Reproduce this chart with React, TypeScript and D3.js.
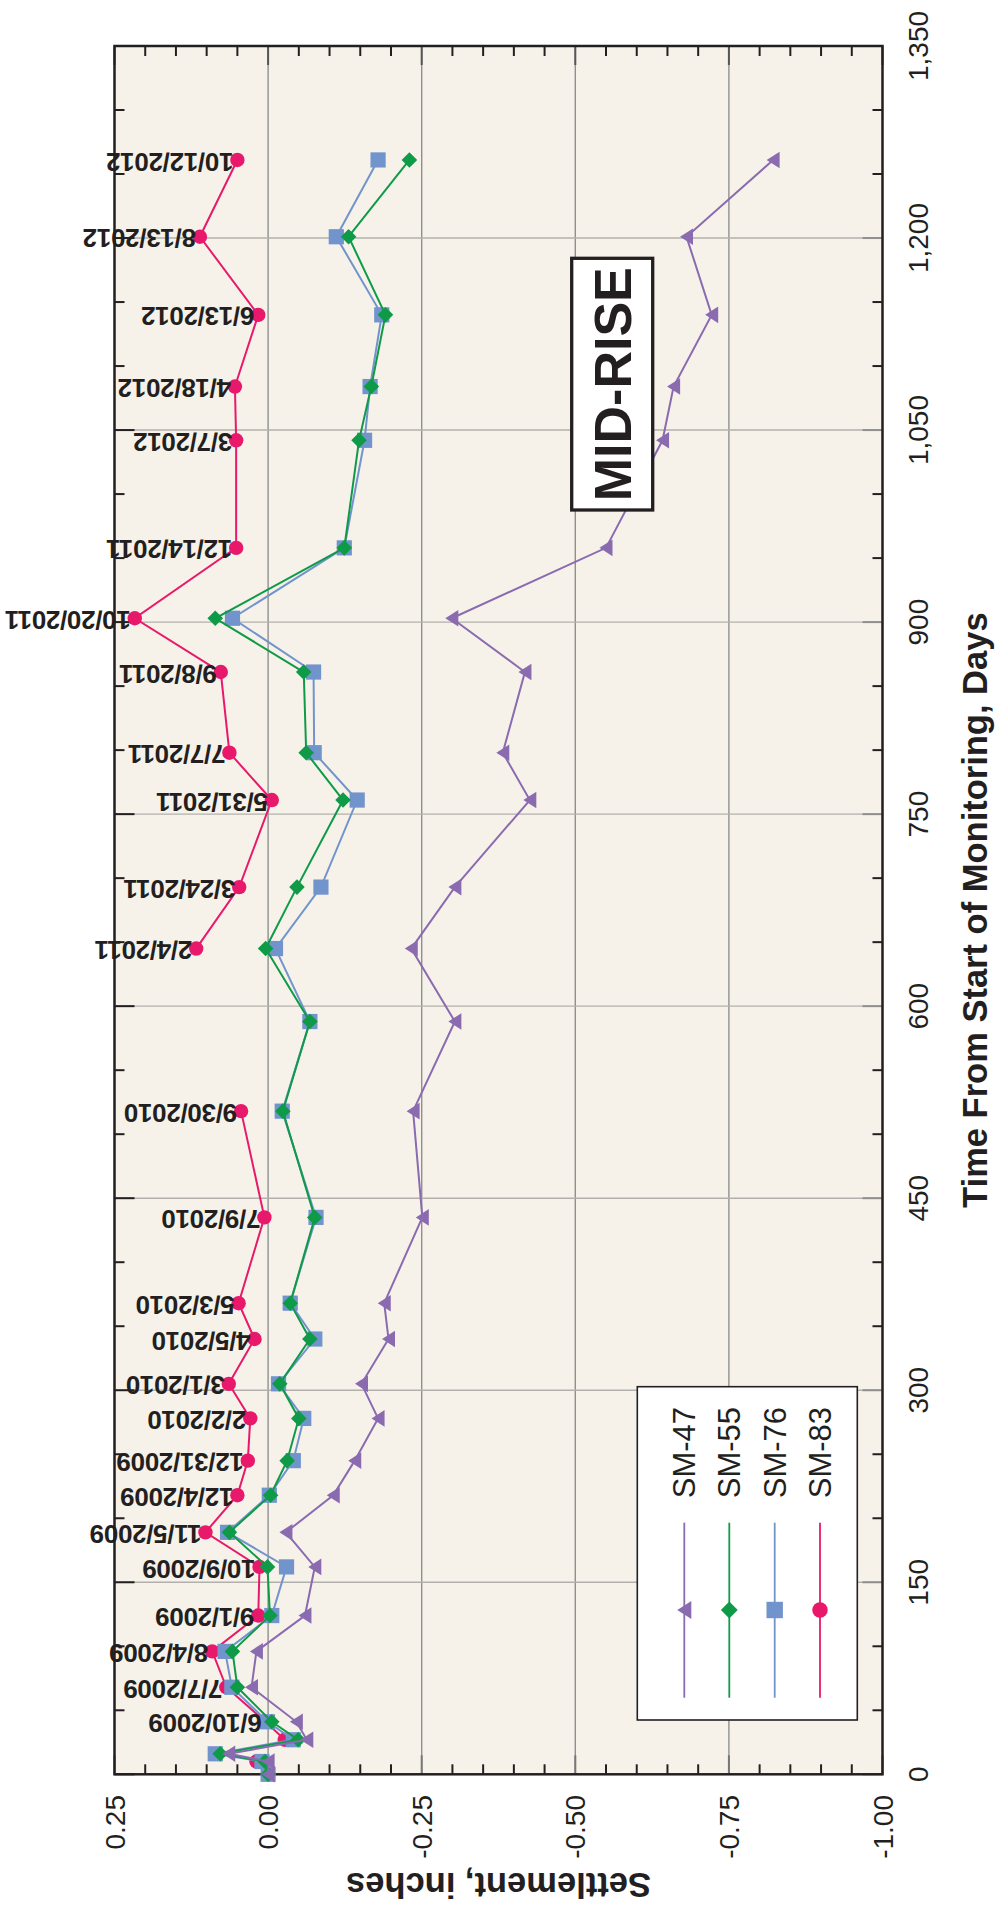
import React from "react";
import * as d3 from "d3";

// Days from start of monitoring (4/30/2009)
const days = [0, 10, 16, 27, 41, 68, 96, 124, 162, 189, 218, 245, 278, 305, 340, 368, 435, 518, 588, 645, 693, 761, 798, 861, 903, 958, 1042, 1084, 1140, 1201, 1261];

const dateLabels = ["", "", "", "", "6/10/2009", "7/7/2009", "8/4/2009", "9/1/2009", "10/9/2009", "11/5/2009", "12/4/2009", "12/31/2009", "2/2/2010", "3/1/2010", "4/5/2010", "5/3/2010", "7/9/2010", "9/30/2010", "", "2/4/2011", "3/24/2011", "5/31/2011", "7/7/2011", "9/8/2011", "10/20/2011", "12/14/2011", "3/7/2012", "4/18/2012", "6/13/2012", "8/13/2012", "10/12/2012"];

const sm47 = [0, 0, 0.064, -0.063, -0.046, 0.027, 0.019, -0.060, -0.076, -0.029, -0.106, -0.141, -0.179, -0.152, -0.196, -0.189, -0.251, -0.236, -0.304, -0.233, -0.304, -0.426, -0.382, -0.418, -0.299, -0.550, -0.642, -0.660, -0.722, -0.681, -0.822];
const sm55 = [0, 0.005, 0.078, -0.049, -0.006, 0.050, 0.058, -0.003, 0.001, 0.063, -0.004, -0.031, -0.050, -0.019, -0.068, -0.036, -0.076, -0.024, -0.068, 0.004, -0.047, -0.122, -0.062, -0.058, 0.086, -0.124, -0.148, -0.168, -0.191, -0.131, -0.230];
const sm76 = [0, 0.010, 0.086, -0.041, 0.001, 0.059, 0.070, -0.006, -0.030, 0.066, -0.002, -0.041, -0.058, -0.017, -0.076, -0.036, -0.078, -0.023, -0.068, -0.012, -0.086, -0.145, -0.075, -0.074, 0.058, -0.124, -0.157, -0.166, -0.185, -0.111, -0.179];
const sm83 = [0, 0.019, null, -0.027, 0.004, 0.068, 0.091, 0.016, 0.014, 0.102, 0.050, 0.033, 0.029, 0.064, 0.022, 0.048, 0.006, 0.044, null, 0.117, 0.047, -0.006, 0.063, 0.077, 0.217, 0.052, 0.052, 0.054, 0.016, 0.111, 0.050];

const seriesNames = ["SM-47", "SM-55", "SM-76", "SM-83"];
const seriesColors = ["#8a6bb0", "#0f9a48", "#7294cc", "#e8196a"];
const seriesShapes = ["triangle", "diamond", "square", "circle"];

const settlementTicks = [0.25, 0, -0.25, -0.5, -0.75, -1];
const settlementTickLabels = ["0.25", "0.00", "-0.25", "-0.50", "-0.75", "-1.00"];
const timeTicks = [0, 150, 300, 450, 600, 750, 900, 1050, 1200, 1350];
const timeTickLabels = ["0", "150", "300", "450", "600", "750", "900", "1,050", "1,200", "1,350"];

const W = 997;
const H = 1913;
const FONT = "'Liberation Sans', Arial, Helvetica, sans-serif";

function Marker({ shape, cx, cy, color, s = 1 }: { shape: string; cx: number; cy: number; color: string; s?: number }) {
  if (shape === "triangle") {
    const pts = `${cx - 6.5 * s},${cy} ${cx + 6.5 * s},${cy - 8.3 * s} ${cx + 6.5 * s},${cy + 8.3 * s}`;
    return <polygon points={pts} fill={color} />;
  }
  if (shape === "diamond") {
    const h = 7.8 * s;
    const pts = `${cx - h},${cy} ${cx},${cy - h} ${cx + h},${cy} ${cx},${cy + h}`;
    return <polygon points={pts} fill={color} />;
  }
  if (shape === "square") {
    const h = 7.6 * s;
    return <rect x={cx - h} y={cy - h} width={2 * h} height={2 * h} fill={color} />;
  }
  return <circle cx={cx} cy={cy} r={7.2 * s} fill={color} />;
}

export default function App() {
  const x = d3.scaleLinear().domain([0.25, -1]).range([114.5, 882.5]);
  const y = d3.scaleLinear().domain([0, 1350]).range([1774.3, 46]);
  const [x0, x1] = x.range();
  const [y0, y1] = y.range();

  const minorTime = d3.range(0, 1351, 50);
  const minorSettle = d3.range(0, 26).map((i) => 0.25 - i * 0.05);

  const allSeries = [sm47, sm55, sm76, sm83];
  const drawOrder = [3, 2, 1, 0];

  const line = d3
    .line<[number, number | null]>()
    .defined((d) => d[1] !== null)
    .x((d) => x(d[1] as number))
    .y((d) => y(d[0]));

  const legendX0 = 637.3, legendX1 = 857.3, legendY0 = 1386.7, legendY1 = 1720;
  const legendLineX = [684.3, 729.3, 774.7, 820];

  return (
    <svg width={W} height={H} style={{ position: "absolute", left: 0, top: 0, background: "#fff" }} fontFamily={FONT}>
      <rect x={x0} y={y1} width={x1 - x0} height={y0 - y1} fill="#f6f2ea" />
      {/* grid */}
      {settlementTicks.slice(1, -1).map((v) => (
        <line key={"gx" + v} x1={x(v)} x2={x(v)} y1={y1} y2={y0} stroke="#8f8f8f" strokeWidth={1.4} />
      ))}
      {timeTicks.slice(1, -1).map((t) => (
        <line key={"gy" + t} x1={x0} x2={x1} y1={y(t)} y2={y(t)} stroke="#b2b0ac" strokeWidth={1.4} />
      ))}
      {/* ticks: time (left & right edges) */}
      {minorTime.map((t) => {
        const major = t % 150 === 0;
        const len = major ? 20 : 10;
        return (
          <g key={"tt" + t}>
            <line x1={x0} x2={x0 + len} y1={y(t)} y2={y(t)} stroke="#231f20" strokeWidth={2} />
            <line x1={x1} x2={x1 - len} y1={y(t)} y2={y(t)} stroke={major ? "#8f8f8f" : "#231f20"} strokeWidth={2} />
          </g>
        );
      })}
      {/* ticks: settlement (top & bottom edges) */}
      {minorSettle.map((v, i) => {
        const major = i % 5 === 0;
        const len = major ? 19 : 10;
        return (
          <g key={"st" + i}>
            <line x1={x(v)} x2={x(v)} y1={y1} y2={y1 + len} stroke={major ? "#555" : "#231f20"} strokeWidth={2} />
            <line x1={x(v)} x2={x(v)} y1={y0} y2={y0 - len} stroke={major ? "#777" : "#231f20"} strokeWidth={2} />
          </g>
        );
      })}
      {/* frame */}
      <rect x={x0} y={y1} width={x1 - x0} height={y0 - y1} fill="none" stroke="#231f20" strokeWidth={2.5} />

      {/* series */}
      {drawOrder.map((si) => {
        const vals = allSeries[si];
        const pts: [number, number | null][] = days.map((d, i) => [d, vals[i]]);
        return (
          <g key={"s" + si}>
            <path d={line(pts) || ""} fill="none" stroke={seriesColors[si]} strokeWidth={2} />
            {pts
              .filter((p) => p[1] !== null)
              .map((p, i) => (
                <Marker key={i} shape={seriesShapes[si]} cx={x(p[1] as number)} cy={y(p[0])} color={seriesColors[si]} />
              ))}
          </g>
        );
      })}

      {/* date labels for SM-83 */}
      {days.map((d, i) =>
        dateLabels[i] && sm83[i] !== null ? (
          <text
            key={"dl" + i}
            transform={`translate(${x(sm83[i] as number) - 4},${y(d) + 2}) rotate(180)`}
            dy="0.36em"
            fontSize={26}
            fontWeight="bold"
            letterSpacing={-0.3}
            fill="#231f20"
          >
            {dateLabels[i]}
          </text>
        ) : null
      )}

      {/* MID-RISE box */}
      <rect x={571.7} y={258.3} width={81} height={251.7} fill="#fff" stroke="#231f20" strokeWidth={3.3} />
      <text
        transform={`translate(${612.2},${384.2}) rotate(-90)`}
        textAnchor="middle"
        dy="0.36em"
        fontSize={52}
        fontWeight="bold"
        fill="#231f20"
      >
        MID-RISE
      </text>

      {/* legend */}
      <rect x={legendX0} y={legendY0} width={legendX1 - legendX0} height={legendY1 - legendY0} fill="#fff" stroke="#231f20" strokeWidth={1.6} />
      {seriesNames.map((n, i) => (
        <g key={"lg" + i}>
          <line x1={legendLineX[i]} x2={legendLineX[i]} y1={1522.7} y2={1697.7} stroke={seriesColors[i]} strokeWidth={1.8} />
          <Marker shape={seriesShapes[i]} cx={legendLineX[i]} cy={1610} color={seriesColors[i]} s={1.08} />
          <text
            transform={`translate(${legendLineX[i]},${1498.3}) rotate(-90)`}
            dy="0.36em"
            fontSize={31}
            fill="#231f20"
          >
            {n}
          </text>
        </g>
      ))}

      {/* tick labels */}
      {settlementTicks.map((v, i) => (
        <text
          key={"sl" + i}
          transform={`translate(${x(v)},${1795}) rotate(-90)`}
          textAnchor="end"
          dy="0.36em"
          fontSize={28}
          fill="#231f20"
        >
          {settlementTickLabels[i]}
        </text>
      ))}
      {timeTicks.map((t, i) => (
        <text
          key={"tl" + i}
          transform={`translate(${918},${y(t)}) rotate(-90)`}
          textAnchor="middle"
          dy="0.36em"
          fontSize={28}
          fill="#231f20"
        >
          {timeTickLabels[i]}
        </text>
      ))}

      {/* axis titles */}
      <text
        transform={`translate(${987},${(y0 + y1) / 2}) rotate(-90)`}
        textAnchor="middle"
        fontSize={34.5}
        fontWeight="bold"
        fill="#231f20"
      >
        Time From Start of Monitoring, Days
      </text>
      <text
        transform={`translate(${(x0 + x1) / 2},${1873}) rotate(180)`}
        textAnchor="middle"
        fontSize={34.5}
        fontWeight="bold"
        fill="#231f20"
      >
        Settlement, inches
      </text>
    </svg>
  );
}
